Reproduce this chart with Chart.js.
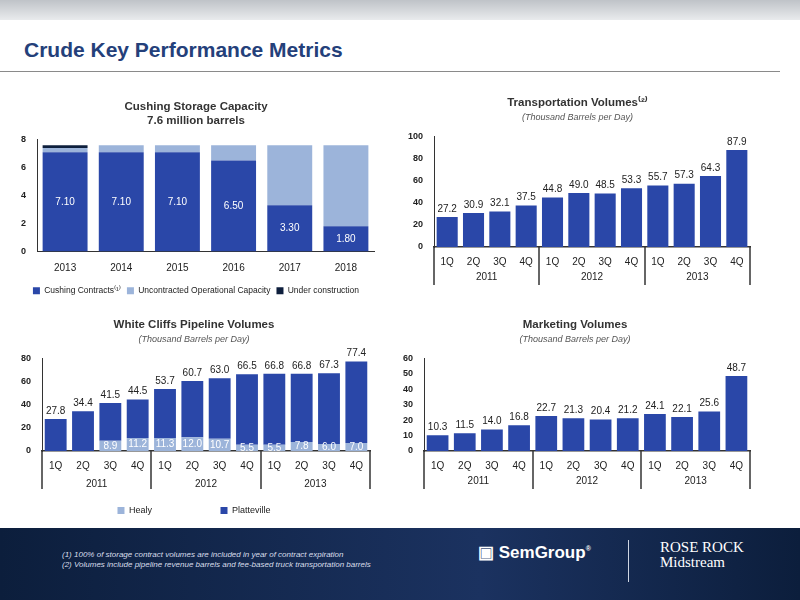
<!DOCTYPE html>
<html><head><meta charset="utf-8">
<script src="https://cdn.jsdelivr.net/npm/chart.js@4"></script>
<style>
body{margin:0;width:800px;height:600px;position:relative;background:#fff;font-family:Arial,"Liberation Sans",sans-serif;overflow:hidden}
.box{position:absolute}
#top{position:absolute;left:0;top:0;width:800px;height:20px;background:linear-gradient(#bfc3c8,#e9ebed)}
#title{position:absolute;left:24px;top:38px;font-size:21px;font-weight:bold;color:#24407a}
#rule{position:absolute;left:0;top:71px;width:780px;height:1px;background:#8a8a8a}
#foot{position:absolute;left:0;top:528px;width:800px;height:72px;background:linear-gradient(90deg,#0c1e3c,#1b3260 60%,#0c1e3c)}
.fn{position:absolute;left:62px;font-size:8px;font-style:italic;color:#d8deea}
#pg{position:absolute;left:22px;top:577px;color:#fff;font-size:11px}
</style></head><body>
<div id="top"></div><div id="title">Crude Key Performance Metrics</div><div id="rule"></div>
<div class="box" style="left:12px;top:100px;width:372px;height:205px"><canvas id="c1"></canvas></div>
<div class="box" style="left:405px;top:96px;width:355px;height:200px"><canvas id="c2"></canvas></div>
<div class="box" style="left:18px;top:318px;width:362px;height:207px"><canvas id="c3"></canvas></div>
<div class="box" style="left:400px;top:318px;width:360px;height:182px"><canvas id="c4"></canvas></div>
<div id="foot">
<div class="fn" style="top:22px">(1) 100% of storage contract volumes are included in year of contract expiration</div>
<div class="fn" style="top:32px">(2) Volumes include pipeline revenue barrels and fee-based truck transportation barrels</div>
<div id="pg">22</div>
<div style="position:absolute;left:478px;top:14px;color:#fff;font-weight:bold;font-size:17px">▣ SemGroup<sup style="font-size:7px">®</sup></div>
<div style="position:absolute;left:628px;top:12px;width:1px;height:42px;background:#cfd6e2"></div>
<div style="position:absolute;left:660px;top:12px;color:#fff;font-family:'Liberation Serif',serif;font-size:15px;line-height:15px">ROSE ROCK<br>Midstream</div>
</div>
<script>
const years6=['2013','2014','2015','2016','2017','2018'];
const cushingContracts=[7.10,7.10,7.10,6.50,3.30,1.80];
const uncontracted=[0.3,0.5,0.5,1.1,4.3,5.8];
const underConstruction=[0.2,0,0,0,0,0];
const quarters=['1Q','2Q','3Q','4Q','1Q','2Q','3Q','4Q','1Q','2Q','3Q','4Q'];
const qYears=['2011','2012','2013'];
const transport=[27.2,30.9,32.1,37.5,44.8,49.0,48.5,53.3,55.7,57.3,64.3,87.9];
const wcTotal=[27.8,34.4,41.5,44.5,53.7,60.7,63.0,66.5,66.8,66.8,67.3,77.4];
const healy=[0,0,8.9,11.2,11.3,12.0,10.7,5.5,5.5,7.8,6.0,7.0];
const platteville=wcTotal.map((t,i)=>+(t-healy[i]).toFixed(1));
const marketing=[10.3,11.5,14.0,16.8,22.7,21.3,20.4,21.2,24.1,22.1,25.6,48.7];

const BLUE='#2a47a8',LIGHT='#9cb4da',DARK='#0e1f3d',TXT='#222';
Chart.defaults.font.family='Arial, "Liberation Sans", sans-serif';
Chart.defaults.color=TXT;
Chart.defaults.animation=false;
const qLabels=quarters.map(q=>[q,' ',' ']);

const labelPlugin={id:'lbl',afterDatasetsDraw(ch,a,o){
  const ctx=ch.ctx;ctx.save();ctx.font='10px Arial';ctx.textAlign='center';
  (o.items||[]).forEach(it=>{
    const meta=ch.getDatasetMeta(it.ds);
    meta.data.forEach((b,i)=>{
      const v=it.values[i]; if(it.skip&&it.skip(v,i))return;
      ctx.fillStyle=it.color;
      let y;
      if(it.pos==='top'){ctx.textBaseline='bottom';y=b.y-3;}
      else{ctx.textBaseline='middle';y=(b.y+b.base)/2;}
      ctx.fillText(it.fmt?it.fmt(v):v.toFixed(1),b.x,y);
    });
  });ctx.restore();}};
const yearPlugin={id:'yrs',afterDraw(ch,a,o){
  if(!o.on)return;const x=ch.scales.x,ctx=ch.ctx,b=ch.chartArea.bottom;
  ctx.save();ctx.strokeStyle='#333';ctx.lineWidth=1.5;ctx.font='10px Arial';ctx.fillStyle=TXT;ctx.textAlign='center';
  const step=x.getPixelForValue(1)-x.getPixelForValue(0);
  for(let g=0;g<=3;g++){const px=Math.round(x.getPixelForValue(g*4)-step/2);ctx.beginPath();ctx.moveTo(px,b);ctx.lineTo(px,b+38);ctx.stroke();}
  for(let g=0;g<3;g++){const px=(x.getPixelForValue(g*4+1)+x.getPixelForValue(g*4+2))/2;ctx.fillText(qYears[g],px,b+33);}
  ctx.restore();}};
Chart.register(labelPlugin,yearPlugin);

function qScales(max,step){return{
  x:{stacked:true,grid:{display:false,drawTicks:true,tickColor:'#333',tickLength:5},border:{color:'#333',width:1.5},ticks:{font:{size:10},padding:4,maxRotation:0,autoSkip:false}},
  y:{stacked:true,min:0,max:max,ticks:{stepSize:step,font:{size:9,weight:'bold'}},grid:{display:false},border:{color:'#333',width:1}}};}
function titleOpts(t,sub){return{
  title:{display:true,text:t,font:{size:11.5,weight:'bold'},color:'#333',padding:{top:0,bottom:sub?2:10}},
  subtitle:{display:!!sub,text:sub||'',font:{size:9,style:'italic'},color:'#555',padding:{bottom:14}}};}

new Chart(c1,{type:'bar',data:{labels:years6,datasets:[
 {label:'Cushing Contracts⁽¹⁾',data:cushingContracts,backgroundColor:BLUE,barPercentage:0.8,categoryPercentage:1},
 {label:'Uncontracted Operational Capacity',data:uncontracted,backgroundColor:LIGHT,barPercentage:0.8,categoryPercentage:1},
 {label:'Under construction',data:underConstruction,backgroundColor:DARK,barPercentage:0.8,categoryPercentage:1}]},
 options:{responsive:true,maintainAspectRatio:false,layout:{padding:{right:10,left:6}},
  scales:{x:{stacked:true,grid:{display:false,tickColor:'#333',tickLength:5},border:{color:'#333'},ticks:{font:{size:10},padding:6}},
   y:{stacked:true,min:0,max:8,ticks:{stepSize:2,font:{size:9,weight:'bold'}},grid:{display:false},border:{color:'#333'}}},
  plugins:{title:{display:true,text:['Cushing Storage Capacity','7.6 million barrels'],font:{size:11.5,weight:'bold'},color:'#333',padding:{bottom:12}},
   legend:{position:'bottom',labels:{boxWidth:7,boxHeight:7,font:{size:8.5},padding:6}},tooltip:{enabled:false},
   lbl:{items:[{ds:0,values:cushingContracts,pos:'mid',color:'#fff',fmt:v=>v.toFixed(2)}]}}}});

new Chart(c2,{type:'bar',data:{labels:qLabels,datasets:[{data:transport,backgroundColor:BLUE,barPercentage:0.8,categoryPercentage:1}]},
 options:{responsive:true,maintainAspectRatio:false,layout:{padding:{right:10}},scales:qScales(100,10),
  plugins:{...titleOpts(['Transportation Volumes⁽²⁾'],'(Thousand Barrels per Day)'),legend:{display:false},tooltip:{enabled:false},yrs:{on:true},
   lbl:{items:[{ds:0,values:transport,pos:'top',color:TXT}]}}}});

new Chart(c3,{type:'bar',data:{labels:qLabels,datasets:[
 {label:'Healy',data:healy,backgroundColor:LIGHT,barPercentage:0.8,categoryPercentage:1},
 {label:'Platteville',data:platteville,backgroundColor:BLUE,barPercentage:0.8,categoryPercentage:1}]},
 options:{responsive:true,maintainAspectRatio:false,layout:{padding:{right:10}},scales:qScales(80,20),
  plugins:{...titleOpts('White Cliffs Pipeline Volumes','(Thousand Barrels per Day)'),
   legend:{position:'bottom',onClick:null,labels:{boxWidth:7,boxHeight:7,font:{size:9},padding:6,
     generateLabels:ch=>Chart.defaults.plugins.legend.labels.generateLabels(ch).map((l,i)=>({...l,text:i===0?l.text+'                         ':l.text}))}},
   tooltip:{enabled:false},yrs:{on:true},
   lbl:{items:[{ds:1,values:wcTotal,pos:'top',color:TXT},{ds:0,values:healy,pos:'mid',color:'#fff',skip:v=>v===0}]}}}});

new Chart(c4,{type:'bar',data:{labels:qLabels,datasets:[{data:marketing,backgroundColor:BLUE,barPercentage:0.8,categoryPercentage:1}]},
 options:{responsive:true,maintainAspectRatio:false,layout:{padding:{right:10}},scales:qScales(60,10),
  plugins:{...titleOpts('Marketing Volumes','(Thousand Barrels per Day)'),legend:{display:false},tooltip:{enabled:false},yrs:{on:true},
   lbl:{items:[{ds:0,values:marketing,pos:'top',color:TXT}]}}}});
</script></body></html>
